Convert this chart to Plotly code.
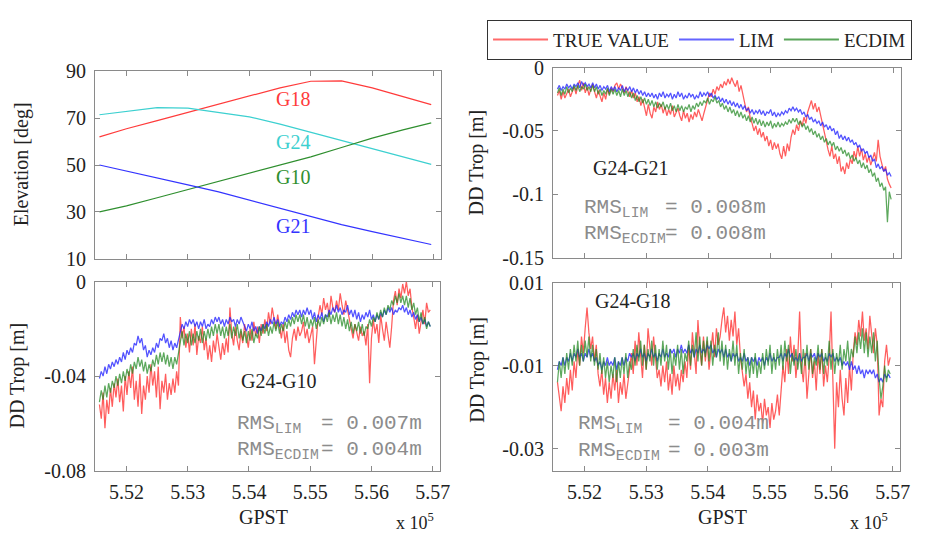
import numpy as np
import plotly.graph_objects as go

# ---------------- data ----------------
# epochs of the DD troposphere series (GPS seconds of week)
T_START = 551560
T_STEP = 30
N_EPOCH = 181

# elevation curves (deg)
ELEV_T = [551560, 552000, 552500, 553000, 553500, 554000, 554500, 555000, 555500, 556000, 556500, 556960]
ELEV_G18 = [62, 65.5, 69, 72.5, 76.3, 79.6, 83, 85.8, 86, 83, 79.3, 75.8]
ELEV_G24 = [71.5, 73, 74.5, 74.3, 72.5, 70.6, 67.5, 64, 60.5, 57, 53.5, 50.3]
ELEV_G10 = [30, 32.5, 36, 39.5, 43, 46.5, 50, 53.5, 57.5, 61.5, 65, 68]
ELEV_G21 = [50, 47.5, 44.5, 41.5, 38.5, 35, 31.5, 28, 24.5, 21.5, 18.5, 16]

# G24-G21 DD trop (mm)
G21_TRUE = [-22, -18, -25, -19, -24, -20, -17, -23, -19, -15,
            -21, -14, -10, -18, -12, -20, -15, -22, -17, -13,
            -19, -24, -18, -22, -27, -20, -25, -17, -21, -16,
            -19, -14, -12, -17, -13, -16, -20, -15, -19, -23,
            -18, -24, -20, -27, -23, -30, -25, -33, -38, -29,
            -36, -40, -31, -35, -27, -33, -29, -36, -31, -38,
            -33, -37, -30, -39, -35, -32, -38, -42, -34, -40,
            -36, -43, -37, -41, -35, -39, -33, -38, -42, -36,
            -30, -25, -20, -23, -17, -21, -15, -18, -13, -16,
            -11, -14, -9, -13, -8, -12, -15, -10, -19, -14,
            -22, -28, -35, -31, -40, -44, -50, -46, -53, -48,
            -55, -51, -58, -54, -62, -57, -65, -59, -64, -60,
            -68, -72, -62, -70, -60, -66, -55, -49, -53, -45,
            -50, -42, -46, -39, -44, -35, -30, -26, -33, -28,
            -35, -31, -38, -44, -50, -58, -65, -70, -62, -72,
            -68, -76, -70, -82, -78, -84, -75, -80, -72, -76,
            -66, -72, -62, -70, -64, -73, -68, -75, -70, -77,
            -72, -67, -74, -57, -70, -76, -82, -78, -88, -92,
            -95]
G21_LIM = [-17, -14, -18, -15, -17, -13, -16, -14, -17, -13,
           -15, -12, -16, -11, -14, -12, -15, -13, -16, -12,
           -16, -13, -17, -14, -18, -15, -17, -14, -19, -15,
           -18, -15, -19, -16, -18, -14, -19, -16, -18, -15,
           -19, -16, -20, -17, -21, -18, -22, -19, -23, -20,
           -23, -20, -24, -21, -25, -20, -23, -19, -24, -21,
           -23, -20, -25, -21, -24, -19, -23, -20, -25, -22,
           -24, -20, -23, -21, -25, -22, -24, -19, -23, -20,
           -22, -19, -23, -20, -24, -22, -25, -23, -27, -24,
           -28, -25, -29, -26, -30, -27, -31, -28, -32, -29,
           -33, -30, -34, -32, -36, -33, -37, -34, -36, -33,
           -37, -34, -38, -35, -36, -33, -38, -35, -39, -36,
           -38, -35, -37, -34, -36, -32, -34, -31, -34, -32,
           -35, -33, -37, -35, -39, -37, -41, -39, -43, -41,
           -44, -42, -46, -43, -47, -45, -49, -46, -50, -48,
           -53, -50, -56, -53, -57, -54, -58, -55, -59, -57,
           -61, -59, -63, -61, -66, -64, -68, -66, -71, -69,
           -74, -72, -79, -76, -80, -78, -82, -80, -85, -83,
           -86]
G21_ECDIM = [-20, -16, -22, -17, -21, -15, -20, -16, -19, -14,
             -18, -14, -19, -15, -17, -13, -18, -15, -19, -14,
             -19, -15, -21, -17, -22, -18, -21, -16, -22, -17,
             -21, -17, -22, -18, -23, -17, -22, -18, -23, -19,
             -24, -20, -26, -22, -27, -23, -28, -24, -29, -25,
             -30, -26, -31, -27, -32, -28, -31, -27, -33, -29,
             -33, -28, -34, -30, -35, -29, -34, -30, -35, -31,
             -33, -29, -35, -30, -33, -28, -31, -27, -30, -26,
             -28, -24, -29, -25, -27, -23, -28, -26, -31, -28,
             -33, -30, -35, -31, -36, -33, -38, -34, -39, -35,
             -40, -37, -42, -38, -43, -39, -44, -40, -45, -41,
             -46, -42, -47, -43, -46, -42, -48, -44, -47, -43,
             -47, -44, -46, -43, -45, -41, -44, -40, -43, -40,
             -45, -42, -47, -44, -49, -46, -51, -48, -53, -50,
             -55, -52, -57, -54, -59, -56, -61, -58, -62, -59,
             -65, -62, -66, -63, -68, -65, -70, -67, -72, -69,
             -74, -71, -76, -73, -79, -75, -80, -77, -83, -80,
             -86, -83, -90, -87, -94, -91, -97, -94, -122, -98,
             -104]

# G24-G10 DD trop (mm)
G10_TRUE = [-52, -58, -47, -62, -50, -56, -45, -53, -43, -49,
            -41, -51, -44, -55, -40, -48, -38, -45, -36, -50,
            -42, -53, -39, -56, -44, -50, -40, -47, -35, -44,
            -38, -49, -36, -54, -42, -47, -39, -50, -43, -48,
            -41, -47, -38, -44, -15, -24, -19, -28, -22, -30,
            -20, -27, -18, -31, -23, -26, -19, -29, -24, -33,
            -27, -34, -25, -30, -22, -28, -33, -26, -31, -24,
            -30, -11, -22, -27, -19, -25, -29, -21, -26, -18,
            -24, -28, -20, -25, -17, -23, -19, -26, -18, -22,
            -16, -21, -13, -18, -11, -16, -20, -14, -19, -24,
            -18, -26, -21, -29, -32, -24, -20, -25, -19, -23,
            -21, -17, -24, -20, -26, -22, -19, -35, -25, -15,
            -10, -14, -7, -12, -9, -15, -6, -11, -13, -8,
            -12, -5, -10, -14, -8, -13, -16, -20, -24, -18,
            -22, -25, -19, -23, -21, -27, -18, -43, -24, -16,
            -22, -18, -26, -14, -20, -25, -17, -23, -28, -19,
            -8, -4, -10, -3, -7, -1, -5, 0, -6, -3,
            -11, -15, -20, -14, -22, -17, -12, -18, -9, -13,
            -12]
G10_LIM = [-41, -38, -40, -36, -39, -35, -37, -34, -36, -33,
           -35, -32, -34, -30, -33, -29, -31, -28, -30, -26,
           -27, -23, -26, -24, -29, -27, -32, -29, -31, -28,
           -30, -26, -28, -24, -25, -22, -26, -24, -28, -25,
           -29, -26, -28, -25, -21, -18, -20, -17, -19, -16,
           -18, -16, -19, -17, -20, -17, -19, -16, -20, -18,
           -19, -16, -18, -15, -17, -15, -18, -16, -19, -16,
           -18, -15, -17, -16, -19, -16, -18, -15, -17, -19,
           -21, -18, -20, -17, -21, -19, -22, -19, -21, -18,
           -20, -17, -19, -16, -18, -15, -18, -16, -19, -17,
           -18, -15, -17, -14, -16, -13, -15, -12, -14, -12,
           -15, -12, -14, -11, -14, -12, -16, -13, -17, -14,
           -16, -13, -17, -14, -15, -12, -14, -11, -13, -10,
           -13, -11, -14, -12, -13, -10, -14, -12, -15, -12,
           -16, -13, -17, -14, -16, -13, -15, -12, -16, -14,
           -17, -14, -16, -13, -15, -12, -14, -11, -13, -11,
           -14, -12, -13, -11, -12, -10, -13, -11, -14, -12,
           -15, -13, -16, -14, -17, -15, -18, -16, -19, -17,
           -19]
G10_ECDIM = [-51, -46, -50, -44, -49, -43, -47, -42, -45, -40,
             -44, -39, -43, -38, -42, -37, -40, -35, -39, -34,
             -37, -32, -36, -33, -38, -34, -39, -35, -38, -33,
             -36, -31, -35, -30, -34, -30, -35, -31, -36, -32,
             -37, -32, -35, -30, -26, -21, -27, -22, -26, -21,
             -27, -22, -26, -21, -25, -20, -26, -21, -25, -20,
             -24, -19, -23, -18, -22, -18, -23, -19, -24, -19,
             -23, -18, -24, -19, -23, -18, -24, -20, -25, -21,
             -26, -21, -25, -20, -26, -22, -24, -19, -23, -18,
             -22, -18, -23, -19, -22, -17, -21, -17, -22, -18,
             -21, -17, -20, -16, -19, -15, -18, -14, -17, -14,
             -18, -14, -19, -15, -20, -16, -19, -15, -20, -16,
             -19, -15, -18, -14, -17, -13, -18, -14, -17, -13,
             -18, -14, -19, -15, -20, -16, -21, -17, -22, -18,
             -21, -17, -22, -18, -23, -19, -20, -16, -19, -15,
             -17, -13, -16, -12, -15, -11, -14, -10, -12, -8,
             -10, -6, -9, -5, -9, -6, -10, -6, -11, -7,
             -12, -9, -14, -11, -17, -13, -18, -15, -20, -17,
             -19]

# G24-G18 DD trop (mm)
G18_TRUE = [-14, -18, -21, -15, -19, -13, -17, -11, -16, -9,
            -13, -6, -10, -3, -7, -1, 4, -2, -6, -3,
            -9, -5, -12, -15, -11, -17, -13, -19, -14, -18,
            -12, -16, -11, -19, -14, -17, -12, -18, -15, -11,
            -7, -12, -4, -10, -2, -8, -13, -5, -11, -1,
            -6, -10, -3, -9, -13, -11, -15, -10, -14, -9,
            -16, -12, -17, -10, -15, -12, -16, -11, -14, -9,
            -13, -5, -11, -2, -8, -12, 1, -6, -10, -3,
            -9, -4, -11, -6, -2, -8, -1, -5, -3, 1,
            4, -2, 2, -4, 1, -3, 3, -5, -1, -8,
            -11, -15, -12, -18, -14, -20, -16, -23, -17, -21,
            -19, -24, -18, -22, -20, -25, -19, -23, -21, -17,
            -22, -15, -10, -14, -6, -12, -3, -9, -5, -13,
            -8, 3, -10, -14, -7, -18, -11, -6, -13, -9,
            -16, -7, -12, -6, -15, -10, -14, -8, 3, -12,
            -30, -14, -20, -11, -18, -22, -13, -19, -10, -16,
            -7, -2, -5, 1, -3, 3, -4, -1, -6, 2,
            -3, -7, -1, -5, -22, -18, -20, -9, -5, -10,
            -8]
G18_LIM = [-11, -9, -10, -8, -10, -8, -9, -7, -9, -7,
           -8, -6, -8, -7, -9, -7, -8, -6, -8, -7,
           -9, -8, -10, -9, -11, -9, -10, -8, -10, -9,
           -10, -8, -11, -9, -10, -8, -10, -8, -9, -7,
           -8, -7, -9, -7, -8, -6, -8, -7, -9, -7,
           -8, -6, -8, -7, -9, -7, -8, -6, -8, -7,
           -8, -6, -7, -6, -8, -6, -7, -5, -7, -6,
           -7, -5, -7, -6, -8, -6, -7, -5, -7, -6,
           -7, -5, -6, -5, -7, -6, -8, -6, -7, -6,
           -8, -6, -8, -7, -9, -7, -8, -7, -9, -8,
           -9, -7, -9, -8, -10, -8, -9, -8, -10, -8,
           -9, -8, -10, -8, -9, -7, -9, -8, -9, -8,
           -8, -7, -9, -7, -8, -6, -8, -7, -9, -8,
           -9, -7, -9, -8, -8, -7, -9, -7, -8, -7,
           -9, -7, -8, -7, -9, -8, -9, -7, -8, -7,
           -9, -8, -9, -8, -10, -9, -10, -9, -11, -9,
           -11, -10, -12, -10, -12, -11, -13, -11, -12, -11,
           -12, -11, -13, -12, -14, -13, -14, -12, -13, -12,
           -13]
G18_ECDIM = [-14, -9, -13, -8, -12, -7, -11, -6, -10, -5,
             -9, -4, -10, -5, -9, -4, -8, -3, -9, -5,
             -10, -6, -11, -7, -12, -8, -13, -9, -14, -10,
             -13, -8, -14, -9, -13, -8, -12, -7, -13, -9,
             -11, -6, -10, -5, -9, -4, -10, -5, -11, -6,
             -9, -4, -10, -5, -11, -6, -10, -4, -9, -5,
             -11, -6, -12, -7, -10, -5, -11, -6, -12, -7,
             -9, -4, -10, -5, -8, -2, -9, -3, -10, -4,
             -8, -3, -9, -4, -10, -5, -8, -2, -9, -4,
             -10, -5, -11, -6, -9, -4, -10, -5, -12, -7,
             -11, -6, -12, -8, -13, -8, -12, -7, -13, -9,
             -12, -7, -11, -6, -10, -5, -12, -7, -11, -6,
             -10, -5, -11, -4, -9, -5, -12, -7, -10, -6,
             -11, -7, -12, -6, -10, -5, -11, -6, -12, -8,
             -10, -5, -11, -6, -12, -7, -10, -4, -11, -6,
             -12, -7, -10, -5, -11, -6, -9, -4, -10, -6,
             -8, -3, -7, -2, -6, -1, -7, -2, -8, -3,
             -7, -2, -9, -4, -13, -18, -15, -10, -14, -11,
             -12]

SERIES_NAMES = ["TRUE VALUE", "LIM", "ECDIM"]
X_TICKS = [552000, 553000, 554000, 555000, 556000, 557000]
X_TICK_TEXT = ["5.52", "5.53", "5.54", "5.55", "5.56", "5.57"]
X_RANGE = [551487, 557122]

# ---------------- figure ----------------
W, H = 925, 544
SERIF = "Liberation Serif"
MONO = "Liberation Mono"
FRAME = "#8a8a8a"
RED, BLUE, GREEN, CYAN = "#ff3b3b", "#3434ff", "#2f8f2f", "#3cd0d0"
RED_N, BLUE_N, GREEN_N = "rgba(255,30,30,0.72)", "rgba(35,35,255,0.78)", "rgba(30,135,30,0.72)"
LEG_COLORS = ["#ff6a6a", "#6464ff", "#5aa55a"]

t = T_START + T_STEP * np.arange(N_EPOCH)
mm = 0.001

for arr in [G21_TRUE, G21_LIM, G21_ECDIM, G10_TRUE, G10_LIM, G10_ECDIM, G18_TRUE, G18_LIM, G18_ECDIM]:
    assert len(arr) == N_EPOCH, len(arr)


def px_x(a, b):
    return [a / W, b / W]


def px_y(top, bottom):
    return [1 - bottom / H, 1 - top / H]


fig = go.Figure()

# top-left: elevations
for vals, col in [(ELEV_G18, RED), (ELEV_G24, CYAN), (ELEV_G10, GREEN), (ELEV_G21, BLUE)]:
    fig.add_trace(go.Scatter(x=ELEV_T, y=vals, mode="lines", line=dict(color=col, width=1.2),
                             xaxis="x", yaxis="y", showlegend=False, hoverinfo="skip"))

panels = [
    ("x2", "y2", G21_TRUE, G21_LIM, G21_ECDIM),
    ("x3", "y3", G10_TRUE, G10_LIM, G10_ECDIM),
    ("x4", "y4", G18_TRUE, G18_LIM, G18_ECDIM),
]
for xa, ya, tru, lim, ecd in panels:
    for vals, col, nm in [(tru, RED_N, SERIES_NAMES[0]), (lim, BLUE_N, SERIES_NAMES[1]),
                          (ecd, GREEN_N, SERIES_NAMES[2])]:
        fig.add_trace(go.Scatter(x=t, y=np.array(vals) * mm, mode="lines", name=nm,
                                 line=dict(color=col, width=1.25), xaxis=xa, yaxis=ya,
                                 showlegend=False))

# legend entries (empty proxy traces so the legend keys are drawn clearly)
for nm, col in zip(SERIES_NAMES, LEG_COLORS):
    fig.add_trace(go.Scatter(x=[None], y=[None], mode="lines", name=nm,
                             line=dict(color=col, width=2), xaxis="x2", yaxis="y2", showlegend=True))

tickfont = dict(family=SERIF, size=20, color="#222")


def axis(**kw):
    d = dict(showline=True, linecolor=FRAME, linewidth=1, mirror="ticks", ticks="inside",
             ticklen=5, tickcolor=FRAME, showgrid=False, zeroline=False, tickfont=tickfont)
    d.update(kw)
    return d


xcommon = dict(range=X_RANGE, tickvals=X_TICKS, ticktext=X_TICK_TEXT)

fig.update_layout(
    width=W, height=H, margin=dict(l=0, r=0, t=0, b=0),
    paper_bgcolor="white", plot_bgcolor="white",
    xaxis=axis(domain=px_x(96, 446), anchor="y", showticklabels=False, **xcommon),
    yaxis=axis(domain=px_y(63, 258), anchor="x", range=[10, 90], tickvals=[10, 30, 50, 70, 90],
               ticklabelstandoff=4),
    xaxis2=axis(domain=px_x(559, 911), anchor="y2", showticklabels=False, **xcommon),
    yaxis2=axis(domain=px_y(59, 257), anchor="x2", range=[-0.15, 0], tickvals=[-0.15, -0.1, -0.05, 0],
                ticktext=["-0.15", "-0.1", "-0.05", "0"], ticklabelstandoff=4),
    xaxis3=axis(domain=px_x(96, 445), anchor="y3", ticklabelstandoff=3, **xcommon),
    yaxis3=axis(domain=px_y(282, 479), anchor="x3", range=[-0.08, 0], tickvals=[-0.08, -0.04, 0],
                ticktext=["-0.08", "-0.04", "0"], ticklabelstandoff=4),
    xaxis4=axis(domain=px_x(559, 910), anchor="y4", ticklabelstandoff=3, **xcommon),
    yaxis4=axis(domain=px_y(283, 479), anchor="x4", range=[-0.0353, 0.01], tickvals=[-0.03, -0.01, 0.01],
                ticktext=["-0.03", "-0.01", "0.01"], ticklabelstandoff=4),
    legend=dict(orientation="h", x=922 / W, xanchor="right", y=1 - 9 / H, yanchor="top",
                bordercolor="#333", borderwidth=1, bgcolor="white", itemwidth=55,
                font=dict(family=SERIF, size=19, color="#222")),
)

ann = []


def text(px, py, s, size=20, color="#222", family=SERIF, xanchor="center", yanchor="middle", angle=0):
    ann.append(dict(x=px / W, y=1 - py / H, xref="paper", yref="paper", text=s, showarrow=False,
                    xanchor=xanchor, yanchor=yanchor, textangle=angle,
                    font=dict(family=family, size=size, color=color)))


# satellite labels
text(296, 92, "G18", color=RED)
text(296, 137, "G24", color=CYAN)
text(296, 173, "G10", color=GREEN)
text(296, 224, "G21", color=BLUE)

# panel names
text(638, 164, "G24-G21")
text(282, 386, "G24-G10")
text(640, 302, "G24-G18")

GRAY = "#8c8c8c"


def rms(px, py1, py2, v1, v2, eqx):
    text(px, py1, "RMS<sub>LIM</sub>", size=21, color=GRAY, family=MONO, xanchor="left", yanchor="top")
    text(eqx, py1, "= " + v1, size=21, color=GRAY, family=MONO, xanchor="left", yanchor="top")
    text(px, py2, "RMS<sub>ECDIM</sub>", size=21, color=GRAY, family=MONO, xanchor="left", yanchor="top")
    text(eqx, py2, "= " + v2, size=21, color=GRAY, family=MONO, xanchor="left", yanchor="top")


rms(588, 191, 218, "0.008m", "0.008m", 670)
rms(238, 416, 443, "0.007m", "0.004m", 322)
rms(582, 416, 444, "0.004m", "0.003m", 673)

# axis titles
text(22, 160, "Elevation [deg]", angle=-90)
text(482, 158, "DD Trop [m]", angle=-90)
text(18, 380, "DD Trop [m]", angle=-90)
text(483, 374, "DD Trop [m]", angle=-90)
text(266, 527, "GPST")
text(730, 527, "GPST")
text(398, 546, "x 10<sup>5</sup>", size=18, xanchor="left", yanchor="bottom")
text(857, 546, "x 10<sup>5</sup>", size=18, xanchor="left", yanchor="bottom")

fig.update_layout(annotations=ann)
fig.write_html("out.html")
